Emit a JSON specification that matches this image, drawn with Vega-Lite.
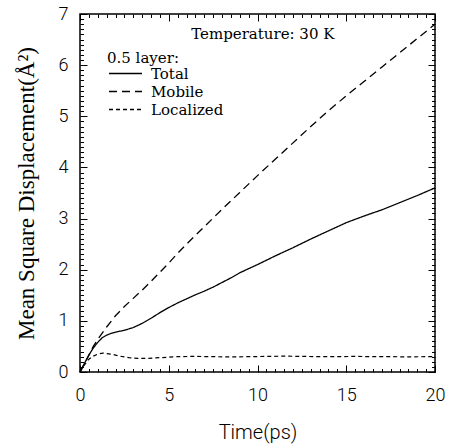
{
  "$schema": "https://vega.github.io/schema/vega-lite/v6.json",
  "width": 355,
  "height": 358,
  "autosize": {"type": "none"},
  "padding": {"left": 80, "top": 14, "right": 19, "bottom": 76},
  "background": "white",
  "config": {
    "view": {"stroke": "black", "strokeWidth": 1.5},
    "axis": {"grid": false, "labelColor": "black", "titleColor": "black", "labelOverlap": false, "labelFlush": false, "labelBound": false}
  },
  "datasets": {
    "msd": [
      {"series": "Total", "t": 0, "msd": 0},
      {"series": "Total", "t": 0.25, "msd": 0.17},
      {"series": "Total", "t": 0.5, "msd": 0.33},
      {"series": "Total", "t": 0.75, "msd": 0.47},
      {"series": "Total", "t": 1.0, "msd": 0.58},
      {"series": "Total", "t": 1.25, "msd": 0.67},
      {"series": "Total", "t": 1.5, "msd": 0.72},
      {"series": "Total", "t": 1.75, "msd": 0.755},
      {"series": "Total", "t": 2.0, "msd": 0.78},
      {"series": "Total", "t": 2.5, "msd": 0.815},
      {"series": "Total", "t": 3.0, "msd": 0.87},
      {"series": "Total", "t": 3.5, "msd": 0.95},
      {"series": "Total", "t": 4.0, "msd": 1.05},
      {"series": "Total", "t": 4.5, "msd": 1.16},
      {"series": "Total", "t": 5.0, "msd": 1.26},
      {"series": "Total", "t": 5.5, "msd": 1.35},
      {"series": "Total", "t": 6.0, "msd": 1.43},
      {"series": "Total", "t": 6.5, "msd": 1.51},
      {"series": "Total", "t": 7.0, "msd": 1.58},
      {"series": "Total", "t": 7.5, "msd": 1.66},
      {"series": "Total", "t": 8.0, "msd": 1.75},
      {"series": "Total", "t": 8.5, "msd": 1.84},
      {"series": "Total", "t": 9.0, "msd": 1.94},
      {"series": "Total", "t": 9.5, "msd": 2.02},
      {"series": "Total", "t": 10, "msd": 2.10},
      {"series": "Total", "t": 11, "msd": 2.27},
      {"series": "Total", "t": 12, "msd": 2.43},
      {"series": "Total", "t": 13, "msd": 2.60},
      {"series": "Total", "t": 14, "msd": 2.76},
      {"series": "Total", "t": 15, "msd": 2.92},
      {"series": "Total", "t": 16, "msd": 3.05},
      {"series": "Total", "t": 17, "msd": 3.17},
      {"series": "Total", "t": 18, "msd": 3.31},
      {"series": "Total", "t": 19, "msd": 3.45},
      {"series": "Total", "t": 20, "msd": 3.60},
      {"series": "Mobile", "t": 0, "msd": 0},
      {"series": "Mobile", "t": 0.25, "msd": 0.16},
      {"series": "Mobile", "t": 0.5, "msd": 0.33},
      {"series": "Mobile", "t": 0.75, "msd": 0.50},
      {"series": "Mobile", "t": 1.0, "msd": 0.64},
      {"series": "Mobile", "t": 1.5, "msd": 0.88},
      {"series": "Mobile", "t": 2.0, "msd": 1.10},
      {"series": "Mobile", "t": 2.5, "msd": 1.28},
      {"series": "Mobile", "t": 3.0, "msd": 1.44},
      {"series": "Mobile", "t": 3.5, "msd": 1.60},
      {"series": "Mobile", "t": 4.0, "msd": 1.77},
      {"series": "Mobile", "t": 4.5, "msd": 1.95},
      {"series": "Mobile", "t": 5.0, "msd": 2.13},
      {"series": "Mobile", "t": 5.5, "msd": 2.32},
      {"series": "Mobile", "t": 6.0, "msd": 2.50},
      {"series": "Mobile", "t": 6.5, "msd": 2.67},
      {"series": "Mobile", "t": 7.0, "msd": 2.84},
      {"series": "Mobile", "t": 7.5, "msd": 3.01},
      {"series": "Mobile", "t": 8.0, "msd": 3.18},
      {"series": "Mobile", "t": 9.0, "msd": 3.51},
      {"series": "Mobile", "t": 10, "msd": 3.84},
      {"series": "Mobile", "t": 11, "msd": 4.16},
      {"series": "Mobile", "t": 12, "msd": 4.48},
      {"series": "Mobile", "t": 13, "msd": 4.80},
      {"series": "Mobile", "t": 14, "msd": 5.11},
      {"series": "Mobile", "t": 15, "msd": 5.40},
      {"series": "Mobile", "t": 16, "msd": 5.68},
      {"series": "Mobile", "t": 17, "msd": 5.96},
      {"series": "Mobile", "t": 18, "msd": 6.24},
      {"series": "Mobile", "t": 19, "msd": 6.52},
      {"series": "Mobile", "t": 20, "msd": 6.80},
      {"series": "Localized", "t": 0, "msd": 0},
      {"series": "Localized", "t": 0.25, "msd": 0.14},
      {"series": "Localized", "t": 0.5, "msd": 0.25},
      {"series": "Localized", "t": 0.75, "msd": 0.31},
      {"series": "Localized", "t": 1.0, "msd": 0.35},
      {"series": "Localized", "t": 1.3, "msd": 0.37},
      {"series": "Localized", "t": 1.75, "msd": 0.35},
      {"series": "Localized", "t": 2.25, "msd": 0.31},
      {"series": "Localized", "t": 2.75, "msd": 0.28},
      {"series": "Localized", "t": 3.25, "msd": 0.265},
      {"series": "Localized", "t": 3.75, "msd": 0.265},
      {"series": "Localized", "t": 4.5, "msd": 0.28},
      {"series": "Localized", "t": 5.5, "msd": 0.30},
      {"series": "Localized", "t": 6.5, "msd": 0.305},
      {"series": "Localized", "t": 7.5, "msd": 0.30},
      {"series": "Localized", "t": 8.5, "msd": 0.295},
      {"series": "Localized", "t": 9.5, "msd": 0.30},
      {"series": "Localized", "t": 10.5, "msd": 0.305},
      {"series": "Localized", "t": 11.5, "msd": 0.31},
      {"series": "Localized", "t": 12.5, "msd": 0.305},
      {"series": "Localized", "t": 13.5, "msd": 0.30},
      {"series": "Localized", "t": 14.5, "msd": 0.30},
      {"series": "Localized", "t": 15.5, "msd": 0.305},
      {"series": "Localized", "t": 16.5, "msd": 0.30},
      {"series": "Localized", "t": 17.5, "msd": 0.30},
      {"series": "Localized", "t": 18.5, "msd": 0.295},
      {"series": "Localized", "t": 19.5, "msd": 0.30},
      {"series": "Localized", "t": 20, "msd": 0.30}
    ],
    "notes": [
      {"label": "Temperature: 30 K", "t": 10.3, "msd": 6.6}
    ]
  },
  "layer": [
    {
      "data": {"name": "msd"},
      "transform": [{"filter": "datum.series === 'Total'"}],
      "mark": {"type": "line", "color": "black", "strokeWidth": 1.3},
      "encoding": {
        "x": {
          "field": "t",
          "type": "quantitative",
          "scale": {"domain": [0, 20], "nice": false},
          "axis": {
            "orient": "bottom",
            "values": [0, 5, 10, 15, 20],
            "format": "d",
            "domain": false,
            "ticks": true,
            "tickColor": "black",
            "tickWidth": 1,
            "tickSize": -7,
            "labelFont": "Roboto",
            "labelFontWeight": 300,
            "labelFontSize": 18,
            "labelPadding": 21,
            "title": "Time(ps)",
            "titleFont": "Roboto",
            "titleFontWeight": 300,
            "titleFontSize": 20,
            "titlePadding": 18
          }
        },
        "y": {
          "field": "msd",
          "type": "quantitative",
          "scale": {"domain": [0, 7], "nice": false},
          "axis": {
            "orient": "left",
            "values": [0, 1, 2, 3, 4, 5, 6, 7],
            "format": "d",
            "domain": false,
            "ticks": true,
            "tickColor": "black",
            "tickWidth": 1,
            "tickSize": -7,
            "labelFont": "Roboto",
            "labelFontWeight": 300,
            "labelFontSize": 18,
            "labelPadding": 19,
            "title": "Mean Square Displacement(Å²)",
            "titleFont": "Liberation Serif",
            "titleFontWeight": "normal",
            "titleFontSize": 23,
            "titlePadding": 20
          }
        },
        "strokeDash": {
          "field": "series",
          "type": "nominal",
          "scale": {"domain": ["Total", "Mobile", "Localized"], "range": [[1, 0], [8, 5], [4, 3]]},
          "legend": {
            "orient": "top-left",
            "offset": 27,
            "title": "0.5 layer:",
            "titleFont": "DejaVu Serif",
            "titleFontSize": 15,
            "titleFontWeight": "normal",
            "titleColor": "black",
            "titlePadding": 10,
            "titleBaseline": "line-top",
            "titleLineHeight": 36,
            "labelFont": "DejaVu Serif",
            "labelFontSize": 15,
            "labelColor": "black",
            "labelOffset": 29,
            "symbolType": "M-1,0H5",
            "symbolSize": 121,
            "symbolStrokeWidth": 1.5,
            "symbolStrokeColor": "black",
            "symbolFillColor": "transparent",
            "rowPadding": 2
          }
        }
      }
    },
    {
      "data": {"name": "msd"},
      "transform": [{"filter": "datum.series === 'Mobile'"}],
      "mark": {"type": "line", "color": "black", "strokeWidth": 1.3},
      "encoding": {
        "x": {
          "field": "t",
          "type": "quantitative",
          "scale": {"domain": [0, 20], "nice": false},
          "axis": {
            "orient": "bottom",
            "values": [0.5, 1, 1.5, 2, 2.5, 3, 3.5, 4, 4.5, 5.5, 6, 6.5, 7, 7.5, 8, 8.5, 9, 9.5, 10.5, 11, 11.5, 12, 12.5, 13, 13.5, 14, 14.5, 15.5, 16, 16.5, 17, 17.5, 18, 18.5, 19, 19.5],
            "labels": false,
            "title": null,
            "domain": false,
            "ticks": true,
            "tickColor": "black",
            "tickWidth": 1,
            "tickSize": -3.5
          }
        },
        "y": {
          "field": "msd",
          "type": "quantitative",
          "scale": {"domain": [0, 7], "nice": false},
          "axis": {
            "orient": "left",
            "values": [0.1, 0.2, 0.3, 0.4, 0.5, 0.6, 0.7, 0.8, 0.9, 1.1, 1.2, 1.3, 1.4, 1.5, 1.6, 1.7, 1.8, 1.9, 2.1, 2.2, 2.3, 2.4, 2.5, 2.6, 2.7, 2.8, 2.9, 3.1, 3.2, 3.3, 3.4, 3.5, 3.6, 3.7, 3.8, 3.9, 4.1, 4.2, 4.3, 4.4, 4.5, 4.6, 4.7, 4.8, 4.9, 5.1, 5.2, 5.3, 5.4, 5.5, 5.6, 5.7, 5.8, 5.9, 6.1, 6.2, 6.3, 6.4, 6.5, 6.6, 6.7, 6.8, 6.9],
            "labels": false,
            "title": null,
            "domain": false,
            "ticks": true,
            "tickColor": "black",
            "tickWidth": 1,
            "tickSize": -3.5
          }
        },
        "strokeDash": {
          "field": "series",
          "type": "nominal",
          "scale": {"domain": ["Total", "Mobile", "Localized"], "range": [[1, 0], [8, 5], [4, 3]]}
        }
      }
    },
    {
      "data": {"name": "msd"},
      "transform": [{"filter": "datum.series === 'Localized'"}],
      "mark": {"type": "line", "color": "black", "strokeWidth": 1.2},
      "encoding": {
        "x": {
          "field": "t",
          "type": "quantitative",
          "scale": {"domain": [0, 20], "nice": false},
          "axis": {
            "orient": "top",
            "values": [0, 5, 10, 15, 20],
            "labels": false,
            "title": null,
            "domain": false,
            "ticks": true,
            "tickColor": "black",
            "tickWidth": 1,
            "tickSize": -7
          }
        },
        "y": {
          "field": "msd",
          "type": "quantitative",
          "scale": {"domain": [0, 7], "nice": false},
          "axis": {
            "orient": "right",
            "values": [0, 1, 2, 3, 4, 5, 6, 7],
            "labels": false,
            "title": null,
            "domain": false,
            "ticks": true,
            "tickColor": "black",
            "tickWidth": 1,
            "tickSize": -7
          }
        },
        "strokeDash": {
          "field": "series",
          "type": "nominal",
          "scale": {"domain": ["Total", "Mobile", "Localized"], "range": [[1, 0], [8, 5], [4, 3]]}
        }
      }
    },
    {
      "data": {"name": "notes"},
      "mark": {"type": "text", "font": "DejaVu Serif", "fontSize": 15, "color": "black", "align": "center", "baseline": "middle"},
      "encoding": {
        "x": {
          "field": "t",
          "type": "quantitative",
          "scale": {"domain": [0, 20], "nice": false},
          "axis": {
            "orient": "top",
            "values": [0.5, 1, 1.5, 2, 2.5, 3, 3.5, 4, 4.5, 5.5, 6, 6.5, 7, 7.5, 8, 8.5, 9, 9.5, 10.5, 11, 11.5, 12, 12.5, 13, 13.5, 14, 14.5, 15.5, 16, 16.5, 17, 17.5, 18, 18.5, 19, 19.5],
            "labels": false,
            "title": null,
            "domain": false,
            "ticks": true,
            "tickColor": "black",
            "tickWidth": 1,
            "tickSize": -3.5
          }
        },
        "y": {
          "field": "msd",
          "type": "quantitative",
          "scale": {"domain": [0, 7], "nice": false},
          "axis": {
            "orient": "right",
            "values": [0.1, 0.2, 0.3, 0.4, 0.5, 0.6, 0.7, 0.8, 0.9, 1.1, 1.2, 1.3, 1.4, 1.5, 1.6, 1.7, 1.8, 1.9, 2.1, 2.2, 2.3, 2.4, 2.5, 2.6, 2.7, 2.8, 2.9, 3.1, 3.2, 3.3, 3.4, 3.5, 3.6, 3.7, 3.8, 3.9, 4.1, 4.2, 4.3, 4.4, 4.5, 4.6, 4.7, 4.8, 4.9, 5.1, 5.2, 5.3, 5.4, 5.5, 5.6, 5.7, 5.8, 5.9, 6.1, 6.2, 6.3, 6.4, 6.5, 6.6, 6.7, 6.8, 6.9],
            "labels": false,
            "title": null,
            "domain": false,
            "ticks": true,
            "tickColor": "black",
            "tickWidth": 1,
            "tickSize": -3.5
          }
        },
        "text": {"field": "label"}
      }
    }
  ],
  "resolve": {"axis": {"x": "independent", "y": "independent"}}
}
